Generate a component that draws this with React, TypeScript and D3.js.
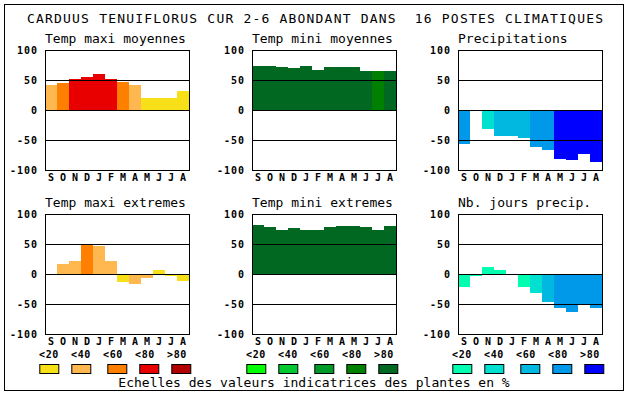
import React from "react";
import * as d3 from "d3";

const months = ["S", "O", "N", "D", "J", "F", "M", "A", "M", "J", "J", "A"];
const yTicks = [100, 50, 0, -50, -100];
const gridLines = [50, 0, -50];
const legendLabels = ["<20", "<40", "<60", "<80", ">80"];

const warmColors = ["#f8e018", "#ffb850", "#ff8000", "#e80000", "#b00000"];
const greenColors = ["#00ff00", "#00c830", "#009a28", "#008000", "#006820"];
const blueColors = ["#00ffb0", "#00e0d0", "#00b8e0", "#0098e8", "#0000ff"];

// valeurs
const tmaxMoy = [42, 45, 52, 55, 60, 52, 47, 42, 20, 20, 20, 32];
const tmaxMoyCls = [1, 2, 3, 3, 3, 3, 2, 1, 0, 0, 0, 0];
const tminMoy = [73, 73, 72, 70, 73, 67, 72, 72, 72, 65, 65, 65];
const tminMoyCls = [4, 4, 4, 4, 4, 4, 4, 4, 4, 4, 3, 4];
const precip = [-56, 0, -31, -44, -44, -46, -61, -66, -81, -83, -73, -86];
const precipCls = [3, 0, 1, 2, 2, 2, 3, 3, 4, 4, 4, 4];
const tmaxExt = [-2, 16, 22, 50, 46, 21, -14, -17, -6, 7, -4, -11];
const tmaxExtCls = [1, 1, 1, 2, 1, 1, 0, 1, 1, 0, 0, 0];
const tminExt = [82, 78, 74, 76, 74, 74, 78, 80, 80, 78, 74, 80];
const tminExtCls = [4, 4, 4, 4, 4, 4, 4, 4, 4, 4, 4, 4];
const nbJours = [-21, -4, 11, 6, -2, -22, -32, -46, -57, -64, -52, -56];
const nbJoursCls = [0, 0, 0, 0, 0, 0, 1, 2, 3, 3, 3, 3];

const W = 630;
const H = 394;
const colX = [45, 252, 458];
const rowY = [50, 214];
const pw = 144;
const ph = 120;
const mono = "DejaVu Sans Mono, monospace";

const swatchOff = [4.3, 36.3, 72.3, 104.3, 136.3];
const labelOff = [4, 36, 68, 100, 132];

const panels = [
  { title: "Temp maxi moyennes", values: tmaxMoy, cls: tmaxMoyCls, pal: warmColors, col: 0, row: 0 },
  { title: "Temp mini moyennes", values: tminMoy, cls: tminMoyCls, pal: greenColors, col: 1, row: 0 },
  { title: "Precipitations", values: precip, cls: precipCls, pal: blueColors, col: 2, row: 0 },
  { title: "Temp maxi extremes", values: tmaxExt, cls: tmaxExtCls, pal: warmColors, col: 0, row: 1 },
  { title: "Temp mini extremes", values: tminExt, cls: tminExtCls, pal: greenColors, col: 1, row: 1 },
  { title: "Nb. jours precip.", values: nbJours, cls: nbJoursCls, pal: blueColors, col: 2, row: 1 },
];

function Panel({ p }: { p: (typeof panels)[number] }) {
  const x0 = colX[p.col];
  const y0 = rowY[p.row];
  const x = d3.scaleBand<string>().domain(months.map((m, i) => i + m)).range([x0, x0 + pw]).padding(0);
  const y = d3.scaleLinear().domain([-100, 100]).range([y0 + ph, y0]);
  return (
    <g>
      <text x={x0} y={y0 - 7} fontFamily={mono} fontSize={13} fill="#000">
        {p.title}
      </text>
      {p.values.map((v, i) => (
        <rect
          key={i}
          x={x(i + months[i])}
          width={x.bandwidth()}
          y={Math.min(y(v), y(0))}
          height={Math.abs(y(v) - y(0))}
          fill={p.pal[p.cls[i]]}
          shapeRendering="crispEdges"
        />
      ))}
      {gridLines.map((g) => (
        <line key={g} x1={x0} x2={x0 + pw} y1={Math.round(y(g)) + 0.5} y2={Math.round(y(g)) + 0.5} stroke="#000" />
      ))}
      <rect x={x0 + 0.5} y={y0 + 0.5} width={pw} height={ph} fill="none" stroke="#000" />
      {yTicks.map((t) => (
        <text
          key={t}
          x={x0 - 7}
          y={y(t) + 3.5}
          textAnchor="end"
          fontFamily={mono}
          fontWeight="bold"
          fontSize={10}
          letterSpacing={1}
          fill="#000"
        >
          {t}
        </text>
      ))}
      {months.map((m, i) => (
        <text
          key={i}
          x={(x(i + m) as number) + x.bandwidth() / 2}
          y={y0 + ph + 11}
          textAnchor="middle"
          fontFamily={mono}
          fontWeight="bold"
          fontSize={10}
          fill="#000"
        >
          {m}
        </text>
      ))}
    </g>
  );
}

function Legend({ col, pal }: { col: number; pal: string[] }) {
  const x0 = colX[col];
  return (
    <g>
      {legendLabels.map((l, i) => (
        <g key={i}>
          <text
            x={x0 + labelOff[i]}
            y={357.5}
            textAnchor="middle"
            fontFamily={mono}
            fontWeight="bold"
            fontSize={10}
            letterSpacing={0.7}
            fill="#000"
          >
            {l}
          </text>
          <rect x={x0 + swatchOff[i] - 9.5} y={364.5} width={19} height={9} fill={pal[i]} stroke="#000" />
        </g>
      ))}
    </g>
  );
}

export default function App() {
  return (
    <svg
      width={W}
      height={H}
      viewBox={`0 0 ${W} ${H}`}
      style={{ position: "absolute", left: 0, top: 0, background: "#fff" }}
    >
      <rect x={0} y={0} width={W} height={H} fill="#fff" />
      <rect x={4.5} y={4.5} width={619} height={386} fill="none" stroke="#000" />
      <text
        x={27}
        y={22.7}
        fontFamily={mono}
        fontSize={13}
        textLength={576}
        lengthAdjust="spacing"
        fill="#000"
        style={{ whiteSpace: "pre" }}
      >
        CARDUUS TENUIFLORUS CUR 2-6 ABONDANT DANS  16 POSTES CLIMATIQUES
      </text>
      {panels.map((p, i) => (
        <Panel key={i} p={p} />
      ))}
      <Legend col={0} pal={warmColors} />
      <Legend col={1} pal={greenColors} />
      <Legend col={2} pal={blueColors} />
      <text x={314} y={386.7} textAnchor="middle" fontFamily={mono} fontSize={13} fill="#000">
        Echelles des valeurs indicatrices des plantes en %
      </text>
    </svg>
  );
}
